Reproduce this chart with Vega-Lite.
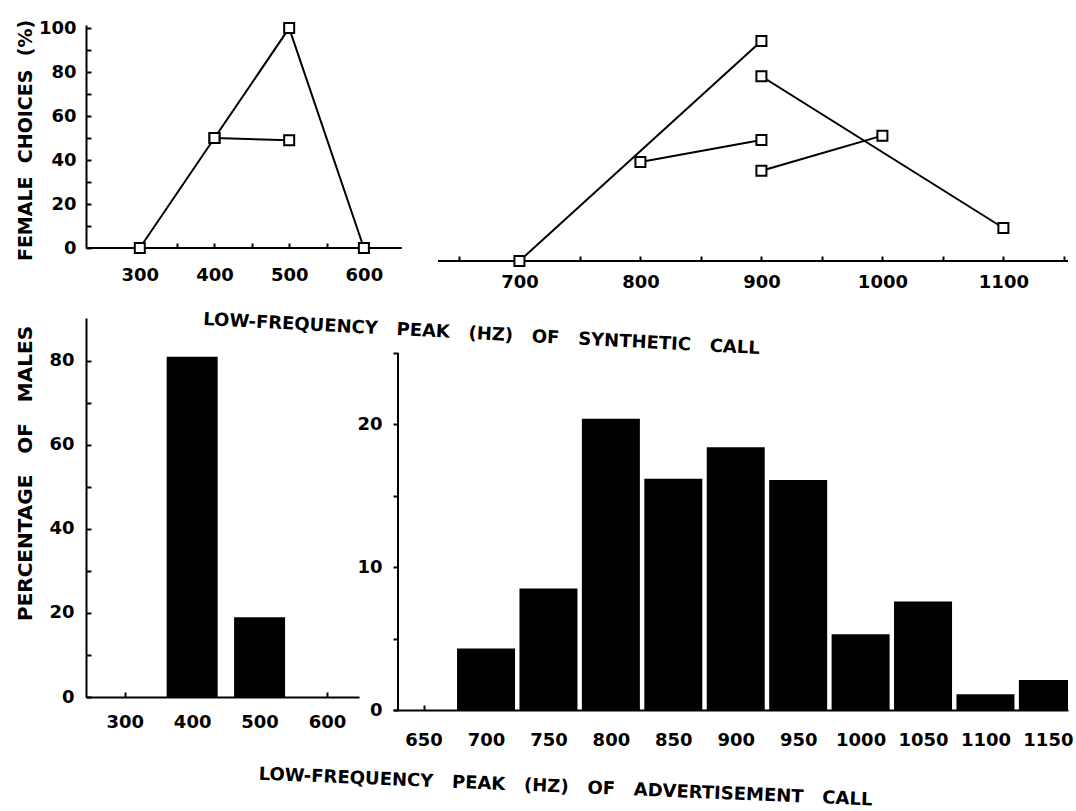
{
  "$schema": "https://vega.github.io/schema/vega-lite/v6.json",
  "background": "white",
  "padding": {"left": 14, "top": 19, "right": 0, "bottom": 0},
  "autosize": {"type": "pad"},
  "bounds": "flush",
  "columns": 2,
  "spacing": {"row": 57, "column": 0},
  "config": {
    "view": {"stroke": null},
    "font": "DejaVu Sans",
    "axis": {
      "labelFont": "DejaVu Sans", "labelFontWeight": "bold", "labelFontSize": 18, "labelColor": "black",
      "titleFont": "DejaVu Sans", "titleFontWeight": "bold", "titleColor": "black",
      "domainColor": "black", "domainWidth": 2, "tickColor": "black", "tickWidth": 2,
      "grid": false, "labelOverlap": false, "labelFlush": false, "format": "d"
    }
  },
  "datasets": {
    "choicesLow": [
      {"series": "a", "hz": 300, "pct": 0},
      {"series": "a", "hz": 400, "pct": 50},
      {"series": "a", "hz": 500, "pct": 100},
      {"series": "a", "hz": 600, "pct": 0},
      {"series": "b", "hz": 400, "pct": 50},
      {"series": "b", "hz": 500, "pct": 49}
    ],
    "choicesHigh": [
      {"series": "a", "hz": 700, "pct": 0},
      {"series": "a", "hz": 900, "pct": 100},
      {"series": "b", "hz": 800, "pct": 45},
      {"series": "b", "hz": 900, "pct": 55},
      {"series": "c", "hz": 900, "pct": 84},
      {"series": "c", "hz": 1100, "pct": 15},
      {"series": "d", "hz": 900, "pct": 41},
      {"series": "d", "hz": 1000, "pct": 57}
    ],
    "malesLow": [
      {"hz": 300, "pct": 0},
      {"hz": 400, "pct": 81},
      {"hz": 500, "pct": 19},
      {"hz": 600, "pct": 0}
    ],
    "malesHigh": [
      {"hz": 650, "pct": 0},
      {"hz": 700, "pct": 4.3},
      {"hz": 750, "pct": 8.5},
      {"hz": 800, "pct": 20.4},
      {"hz": 850, "pct": 16.2},
      {"hz": 900, "pct": 18.4},
      {"hz": 950, "pct": 16.1},
      {"hz": 1000, "pct": 5.3},
      {"hz": 1050, "pct": 7.6},
      {"hz": 1100, "pct": 1.1},
      {"hz": 1150, "pct": 2.1}
    ]
  },
  "concat": [
    {
      "width": 307,
      "height": 223,
      "data": {"name": "choicesLow"},
      "encoding": {
        "x": {
          "field": "hz", "type": "quantitative",
          "scale": {"domain": [228, 639], "nice": false, "zero": false},
          "axis": {
            "domain": false,
            "values": [300, 350, 400, 450, 500, 550, 600],
            "labelExpr": "datum.value % 100 === 0 ? datum.label : ''",
            "tickSize": -5, "labelPadding": 23,
            "title": "LOW-FREQUENCY \u00a0 PEAK \u00a0 (HZ) \u00a0 OF \u00a0 SYNTHETIC \u00a0 CALL",
            "titleX": 395, "titleY": 86, "titleAngle": 3, "titleAlign": "center", "titleBaseline": "middle", "titleFontSize": 18
          }
        },
        "y": {
          "field": "pct", "type": "quantitative",
          "scale": {"domain": [0, 101.4], "nice": false},
          "axis": {
            "values": [0, 10, 20, 30, 40, 50, 60, 70, 80, 90, 100],
            "labelExpr": "datum.value % 20 === 0 ? datum.label : ''",
            "tickSize": -5, "labelPadding": 15,
            "title": "FEMALE \u00a0CHOICES \u00a0(%)",
            "titleX": -61, "titleY": 115, "titleAngle": 270, "titleAlign": "center", "titleBaseline": "middle", "titleFontSize": 19
          }
        }
      },
      "layer": [
        {"mark": {"type": "rule", "color": "black", "strokeWidth": 2}, "encoding": {"x": {"datum": 228}, "x2": {"datum": 650}, "y": {"datum": 0}}},
        {"mark": {"type": "line", "color": "black", "strokeWidth": 2}, "encoding": {"detail": {"field": "series"}}},
        {"mark": {"type": "point", "shape": "square", "filled": true, "fill": "white", "stroke": "black", "strokeWidth": 2, "size": 100, "opacity": 1}}
      ]
    },
    {
      "width": 675,
      "height": 236,
      "data": {"name": "choicesHigh"},
      "encoding": {
        "x": {
          "field": "hz", "type": "quantitative",
          "scale": {"domain": [595.5, 1153.4], "nice": false, "zero": false},
          "axis": {
            "domain": false,
            "values": [650, 700, 750, 800, 850, 900, 950, 1000, 1050, 1100, 1150],
            "labelExpr": "datum.value % 100 === 0 && datum.value <= 1100 ? datum.label : ''",
            "tickSize": -5, "labelPadding": 17, "title": null
          }
        },
        "y": {
          "field": "pct", "type": "quantitative",
          "scale": {"domain": [0, 107.3], "nice": false},
          "axis": null
        }
      },
      "layer": [
        {"mark": {"type": "rule", "color": "black", "strokeWidth": 2}, "encoding": {"x": {"datum": 633}, "x2": {"datum": 1153.4}, "y": {"datum": 0}}},
        {"mark": {"type": "line", "color": "black", "strokeWidth": 2}, "encoding": {"detail": {"field": "series"}}},
        {"mark": {"type": "point", "shape": "square", "filled": true, "fill": "white", "stroke": "black", "strokeWidth": 2, "size": 100, "opacity": 1}}
      ]
    },
    {
      "width": 273,
      "height": 379,
      "data": {"name": "malesLow"},
      "mark": {"type": "bar", "color": "black", "size": 51, "orient": "vertical"},
      "encoding": {
        "x": {
          "field": "hz", "type": "quantitative",
          "scale": {"domain": [250, 640], "nice": false, "zero": false},
          "axis": {"values": [300, 400, 500, 600], "tickSize": -5, "labelPadding": 21, "title": null}
        },
        "y": {
          "field": "pct", "type": "quantitative",
          "scale": {"domain": [0, 90.2], "nice": false},
          "axis": {
            "values": [0, 10, 20, 30, 40, 50, 60, 70, 80],
            "labelExpr": "datum.value % 20 === 0 ? datum.label : ''",
            "tickSize": -5, "labelPadding": 17,
            "title": "PERCENTAGE \u00a0 OF \u00a0 MALES",
            "titleX": -61, "titleY": 155, "titleAngle": 270, "titleAlign": "center", "titleBaseline": "middle", "titleFontSize": 20
          }
        }
      }
    },
    {
      "width": 675,
      "height": 392,
      "data": {"name": "malesHigh"},
      "encoding": {
        "x": {
          "field": "hz", "type": "quantitative",
          "scale": {"domain": [629.5, 1162.1], "nice": false, "zero": false},
          "axis": {
            "values": [650, 700, 750, 800, 850, 900, 950, 1000, 1050, 1100, 1150],
            "tickSize": -5, "labelPadding": 26,
            "title": "LOW-FREQUENCY \u00a0 PEAK \u00a0 (HZ) \u00a0 OF \u00a0 ADVERTISEMENT \u00a0 CALL",
            "titleX": 172, "titleY": 77, "titleAngle": 2.4, "titleAlign": "center", "titleBaseline": "middle", "titleFontSize": 18
          }
        },
        "y": {
          "field": "pct", "type": "quantitative",
          "scale": {"domain": [0, 27.45], "nice": false},
          "axis": {
            "domain": false,
            "values": [0, 5, 10, 15, 20, 25],
            "labelExpr": "datum.value % 10 === 0 ? datum.label : ''",
            "tickSize": -5, "labelPadding": 16, "title": null
          }
        }
      },
      "layer": [
        {"mark": {"type": "rule", "color": "black", "strokeWidth": 2}, "encoding": {"x": {"datum": 629.5}, "y": {"datum": 0}, "y2": {"datum": 25}}},
        {"mark": {"type": "bar", "color": "black", "size": 58, "orient": "vertical", "clip": true}}
      ]
    }
  ]
}
